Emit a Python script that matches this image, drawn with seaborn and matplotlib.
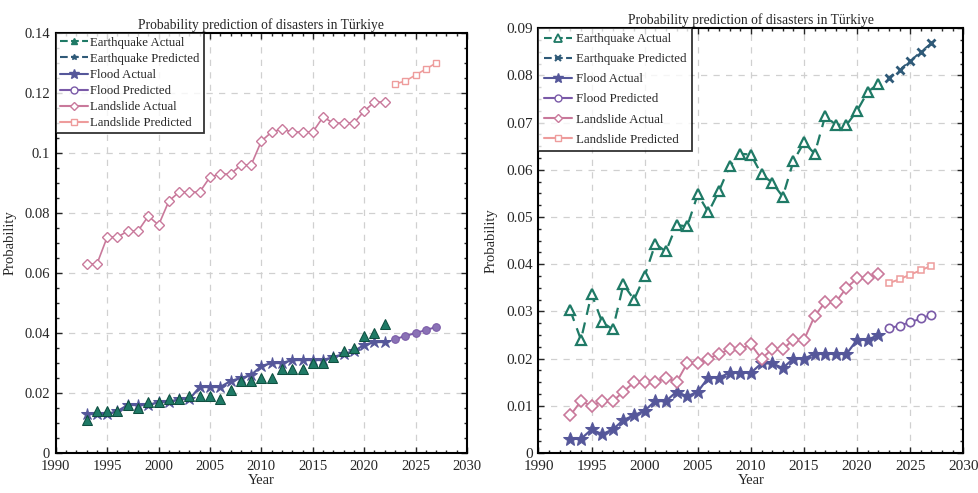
import numpy as np
import pandas as pd
import matplotlib
matplotlib.use("Agg")
import matplotlib.pyplot as plt
from matplotlib.lines import Line2D
from matplotlib.ticker import MultipleLocator
import seaborn as sns

years_actual = list(range(1993, 2023))
years_pred = list(range(2023, 2028))

# Left panel
L_eq_actual = [0.011, 0.014, 0.014, 0.014, 0.016, 0.015, 0.017, 0.017, 0.018, 0.018,
               0.019, 0.019, 0.019, 0.018, 0.021, 0.024, 0.024, 0.025, 0.025, 0.028,
               0.028, 0.028, 0.030, 0.030, 0.032, 0.034, 0.035, 0.039, 0.040, 0.043]
L_flood_actual = [0.013, 0.013, 0.013, 0.014, 0.016, 0.016, 0.016, 0.017, 0.017, 0.018,
                  0.018, 0.022, 0.022, 0.022, 0.024, 0.025, 0.026, 0.029, 0.030, 0.030,
                  0.031, 0.031, 0.031, 0.031, 0.032, 0.033, 0.034, 0.036, 0.037, 0.037]
L_flood_pred = [0.038, 0.039, 0.040, 0.041, 0.042]
L_land_actual = [0.063, 0.063, 0.072, 0.072, 0.074, 0.074, 0.079, 0.076, 0.084, 0.087,
                 0.087, 0.087, 0.092, 0.093, 0.093, 0.096, 0.096, 0.104, 0.107, 0.108,
                 0.107, 0.107, 0.107, 0.112, 0.110, 0.110, 0.110, 0.114, 0.117, 0.117]
L_land_pred = [0.123, 0.124, 0.126, 0.128, 0.130]

# Right panel
R_eq_actual = [0.0302, 0.0240, 0.0337, 0.0277, 0.0262, 0.0357, 0.0325, 0.0375, 0.0443, 0.0427,
               0.0483, 0.0480, 0.0548, 0.0510, 0.0555, 0.0608, 0.0634, 0.0632, 0.0590, 0.0573,
               0.0543, 0.0618, 0.0658, 0.0634, 0.0714, 0.0695, 0.0695, 0.0725, 0.0765, 0.0782]
R_eq_pred = [0.0795, 0.0812, 0.0830, 0.0850, 0.0868]
R_flood_actual = [0.003, 0.003, 0.005, 0.004, 0.005, 0.007, 0.008, 0.009, 0.011, 0.011,
                  0.013, 0.012, 0.013, 0.016, 0.016, 0.017, 0.017, 0.017, 0.019, 0.019,
                  0.018, 0.020, 0.020, 0.021, 0.021, 0.021, 0.021, 0.024, 0.024, 0.025]
R_flood_pred = [0.0264, 0.0270, 0.0277, 0.0285, 0.0293]
R_land_actual = [0.008, 0.011, 0.010, 0.011, 0.011, 0.013, 0.015, 0.015, 0.015, 0.016,
                 0.015, 0.019, 0.019, 0.020, 0.021, 0.022, 0.022, 0.023, 0.020, 0.022,
                 0.022, 0.024, 0.024, 0.029, 0.032, 0.032, 0.035, 0.037, 0.037, 0.038]
R_land_pred = [0.0360, 0.0368, 0.0378, 0.0387, 0.0397]

labels = ["Earthquake Actual", "Earthquake Predicted", "Flood Actual",
          "Flood Predicted", "Landslide Actual", "Landslide Predicted"]
title = "Probability prediction of disasters in Türkiye"

C_EQ = "#1f7a66"
C_EQP = "#2f5a78"
C_FL = "#55579a"
C_FLP = "#7a5aa8"
C_LS = "#c9799b"
C_LSP = "#ee9c9c"

sns.set_style("ticks")
plt.rcParams["font.family"] = ["Liberation Serif", "DejaVu Serif"]

fig = plt.figure(figsize=(9.79, 4.93), dpi=100)
axL = fig.add_axes([0.057, 0.081, 0.420, 0.852])
axR = fig.add_axes([0.550, 0.081, 0.434, 0.862])


def style_axes(ax, ymax, ystep, fs_tick):
    ax.set_xlim(1990, 2030)
    ax.set_ylim(0, ymax)
    ax.xaxis.set_major_locator(MultipleLocator(5))
    ax.xaxis.set_minor_locator(MultipleLocator(1))
    ax.yaxis.set_major_locator(MultipleLocator(ystep))
    ax.yaxis.set_minor_locator(MultipleLocator(ystep / 4))
    ax.tick_params(which="both", direction="in", top=True, right=True,
                   labelsize=fs_tick, width=1.0)
    ax.tick_params(which="major", length=4)
    ax.tick_params(which="minor", length=2.5)
    ax.tick_params(axis="x", pad=5)
    ax.tick_params(axis="y", pad=4)
    ax.grid(True, which="major", linestyle=(0, (5, 5)), color="#d0d0d0", linewidth=0.9)
    for s in ax.spines.values():
        s.set_linewidth(1.5)
        s.set_color("black")
    ax.set_axisbelow(True)


# ---------- Left panel ----------
sns.lineplot(x=years_actual, y=L_land_actual, ax=axL, color=C_LS, marker="D",
             markersize=5.5, markerfacecolor="white", markeredgecolor=C_LS,
             markeredgewidth=1.0, linewidth=1.2)
sns.lineplot(x=years_pred, y=L_land_pred, ax=axL, color=C_LSP, marker="s",
             markersize=5, markerfacecolor="white", markeredgecolor=C_LSP,
             markeredgewidth=1.0, linewidth=1.2)
sns.lineplot(x=years_actual, y=L_flood_actual, ax=axL, color=C_FL, marker="*",
             markersize=9, markerfacecolor=C_FL, markeredgecolor=C_FL, linewidth=1.6)
sns.lineplot(x=years_pred, y=L_flood_pred, ax=axL, color=C_FLP, marker="o",
             markersize=5.5, markerfacecolor="#8a72b5", markeredgecolor=C_FLP, linewidth=1.4)
sns.lineplot(x=years_actual, y=L_eq_actual, ax=axL, color=C_EQ, marker="^",
             markersize=6.5, markerfacecolor=C_EQ, markeredgecolor="#0f4f40",
             linestyle="none")
style_axes(axL, 0.14, 0.02, 10.5)
axL.yaxis.set_major_formatter(plt.FuncFormatter(lambda v, p: "0" if v < 1e-9 else ("%g" % round(v, 3))))
axL.set_title(title, fontsize=9.8, pad=3)
axL.set_xlabel("Year", fontsize=10.5, labelpad=1)
axL.set_ylabel("Probability", fontsize=10.5, labelpad=6)

handlesL = [
    Line2D([], [], color=C_EQ, linestyle="--", marker="^", markersize=5, markerfacecolor=C_EQ),
    Line2D([], [], color=C_EQP, linestyle="--", marker="*", markersize=4),
    Line2D([], [], color=C_FL, marker="*", markersize=7),
    Line2D([], [], color=C_FLP, marker="o", markersize=5, markerfacecolor="white"),
    Line2D([], [], color=C_LS, marker="D", markersize=4.5, markerfacecolor="white"),
    Line2D([], [], color=C_LSP, marker="s", markersize=4.5, markerfacecolor="white"),
]
legL = axL.legend(handlesL, labels, loc="upper left", fontsize=9.2, frameon=True,
                  fancybox=False, borderaxespad=0, handlelength=2.2, handletextpad=0.2,
                  labelspacing=0.32, borderpad=0.3)
legL.get_frame().set_edgecolor("black")
legL.get_frame().set_linewidth(1.3)

# ---------- Right panel ----------
sns.lineplot(x=years_actual, y=R_eq_actual, ax=axR, color=C_EQ, marker="^",
             markersize=7.5, markerfacecolor="white", markeredgecolor=C_EQ,
             markeredgewidth=1.6, linestyle=(0, (5, 3.5)), linewidth=1.6)
sns.lineplot(x=years_pred, y=R_eq_pred, ax=axR, color=C_EQP, marker="x",
             markersize=5.5, markeredgewidth=2.0, markeredgecolor=C_EQP,
             linestyle=(0, (3, 5)), linewidth=1.4)
sns.lineplot(x=years_actual, y=R_flood_actual, ax=axR, color=C_FL, marker="*",
             markersize=10, markerfacecolor=C_FL, markeredgecolor=C_FL, linewidth=1.6)
sns.lineplot(x=years_pred, y=R_flood_pred, ax=axR, color=C_FLP, marker="o",
             markersize=6, markerfacecolor="white", markeredgecolor=C_FLP,
             markeredgewidth=1.2, linewidth=1.4)
sns.lineplot(x=years_actual, y=R_land_actual, ax=axR, color=C_LS, marker="D",
             markersize=6, markerfacecolor="white", markeredgecolor=C_LS,
             markeredgewidth=1.2, linewidth=1.4)
sns.lineplot(x=years_pred, y=R_land_pred, ax=axR, color=C_LSP, marker="s",
             markersize=5, markerfacecolor="white", markeredgecolor=C_LSP,
             markeredgewidth=1.1, linewidth=1.4)
style_axes(axR, 0.09, 0.01, 11)
axR.yaxis.set_major_formatter(plt.FuncFormatter(lambda v, p: "0" if v < 1e-9 else "%.2f" % v))
axR.set_title(title, fontsize=9.8, pad=3)
axR.set_xlabel("Year", fontsize=10.5, labelpad=1)
axR.set_ylabel("Probability", fontsize=10.5, labelpad=6)

handlesR = [
    Line2D([], [], color=C_EQ, linestyle="--", marker="^", markersize=6,
           markerfacecolor="white", markeredgewidth=1.3),
    Line2D([], [], color=C_EQP, linestyle="--", marker="x", markersize=4, markeredgewidth=1.5),
    Line2D([], [], color=C_FL, marker="*", markersize=7),
    Line2D([], [], color=C_FLP, marker="o", markersize=5, markerfacecolor="white"),
    Line2D([], [], color=C_LS, marker="D", markersize=4.5, markerfacecolor="white"),
    Line2D([], [], color=C_LSP, marker="s", markersize=4.5, markerfacecolor="white"),
]
legR = axR.legend(handlesR, labels, loc="upper left", fontsize=9.3, frameon=True,
                  fancybox=False, borderaxespad=0, handlelength=2.2, handletextpad=0.3,
                  labelspacing=0.62, borderpad=0.4)
legR.get_frame().set_edgecolor("black")
legR.get_frame().set_linewidth(1.3)

fig.savefig("out.png", dpi=100)
